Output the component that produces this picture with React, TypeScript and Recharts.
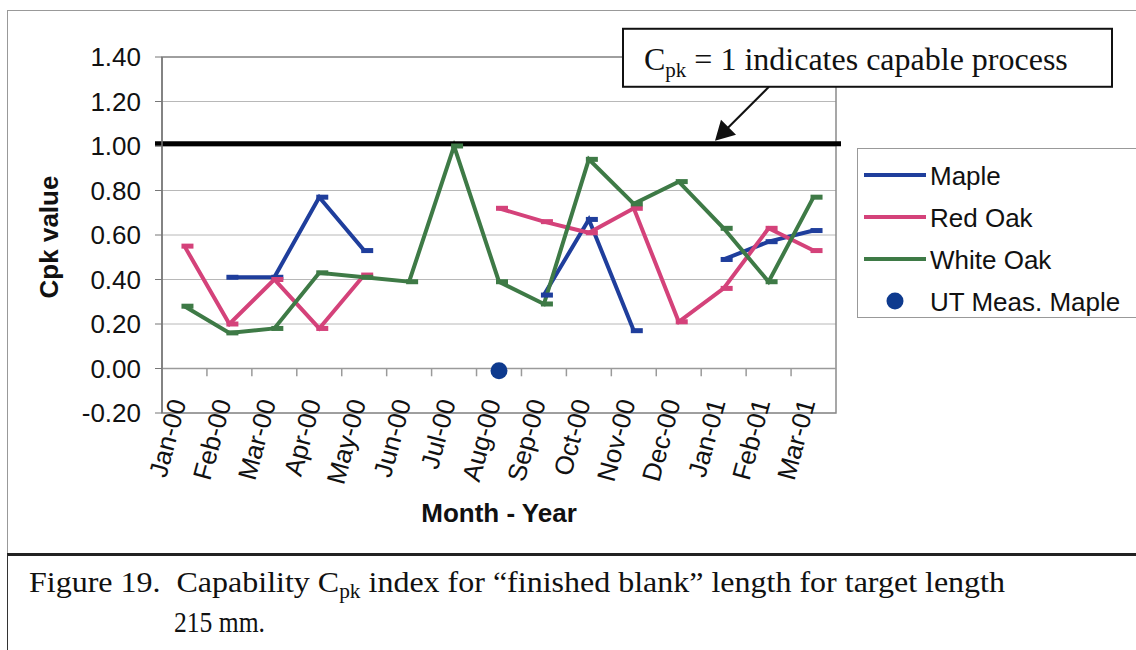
import React from 'react';
import {
  LineChart,
  Line,
  XAxis,
  YAxis,
  CartesianGrid,
  ReferenceLine,
  ReferenceArea,
  Legend,
  Label,
} from 'recharts';

// ---------- data ----------
const months = [
  'Jan-00', 'Feb-00', 'Mar-00', 'Apr-00', 'May-00', 'Jun-00', 'Jul-00', 'Aug-00',
  'Sep-00', 'Oct-00', 'Nov-00', 'Dec-00', 'Jan-01', 'Feb-01', 'Mar-01',
];
const maple = [null, 0.41, 0.41, 0.77, 0.53, null, null, null, 0.33, 0.67, 0.17, null, 0.49, 0.57, 0.62];
const redOak = [0.55, 0.2, 0.4, 0.18, 0.42, null, null, 0.72, 0.66, 0.61, 0.72, 0.21, 0.36, 0.63, 0.53];
const whiteOak = [0.28, 0.16, 0.18, 0.43, 0.41, 0.39, 1.0, 0.39, 0.29, 0.94, 0.74, 0.84, 0.63, 0.39, 0.77];
const utMaple = [null, null, null, null, null, null, null, -0.01, null, null, null, null, null, null, null];
const yTicks = [-0.2, 0, 0.2, 0.4, 0.6, 0.8, 1.0, 1.2, 1.4];
const capableLevel = 1.01;
const seriesNames = ['Maple', 'Red Oak', 'White Oak', 'UT Meas. Maple'];

const data = months.map((m, i) => ({
  pos: i + 0.5,
  month: m,
  maple: maple[i],
  redOak: redOak[i],
  whiteOak: whiteOak[i],
  ut: utMaple[i],
}));
const xTicks = months.map((_, i) => i + 0.5);
const boundaries = months.slice(1).map((_, i) => i + 1);

// ---------- styles ----------
const SANS = '"Liberation Sans", Arial, Helvetica, sans-serif';
const SERIF = '"Liberation Serif", "Times New Roman", Times, serif';
const BLUE = '#1f3e9c';
const PINK = '#d4427a';
const GREEN = '#3e7a46';
const DOT = '#0e3a8e';

const dashDot = (color: string) => (props: any) => {
  const { cx, cy, index } = props;
  if (cy == null || cx == null || Number.isNaN(cy)) return <g key={`d-${index}`} />;
  return <rect key={`d-${index}`} x={cx - 3} y={cy - 2.5} width={12} height={5} fill={color} />;
};

const XTick = (props: any) => {
  const { x, y, payload } = props;
  const label = months[Math.floor(payload.value)];
  return (
    <g transform={`translate(${x + 2},${y - 11})`}>
      <text
        x={0}
        y={0}
        transform="rotate(-75)"
        textAnchor="end"
        fontFamily={SANS}
        fontSize={26}
        fill="#111"
      >
        {label}
      </text>
    </g>
  );
};

const YTitle = (props: any) => {
  const { viewBox } = props;
  const cx = viewBox.x + 49;
  const cy = viewBox.y + viewBox.height / 2 + 2;
  return (
    <text
      x={cx}
      y={cy}
      transform={`rotate(-90 ${cx} ${cy})`}
      textAnchor="middle"
      dominantBaseline="central"
      fontFamily={SANS}
      fontWeight="bold"
      fontSize={26}
      fill="#111"
    >
      Cpk value
    </text>
  );
};

const XTitle = (props: any) => {
  const { viewBox } = props;
  return (
    <text
      x={viewBox.x + viewBox.width / 2}
      y={viewBox.y + 109}
      textAnchor="middle"
      fontFamily={SANS}
      fontWeight="bold"
      fontSize={26}
      fill="#111"
    >
      Month - Year
    </text>
  );
};

const CapableLine = (props: any) => {
  const { x1, y1, x2, y2 } = props;
  return <line x1={x1 - 7} y1={y1} x2={x2 + 5} y2={y2} stroke="#000" strokeWidth={5} />;
};

const Annotation = (props: any) => {
  const { viewBox } = props;
  const lx = viewBox.x;
  const ly = viewBox.y;
  const bx = lx + 461;
  const by = ly - 115;
  const bw = 489;
  const bh = 58;
  const ax1 = lx + 607;
  const ay1 = by + bh;
  const tipX = lx + 553;
  const tipY = ly - 3;
  return (
    <g>
      <rect x={bx} y={by} width={bw} height={bh} fill="#fff" stroke="#111" strokeWidth={2} />
      <text x={bx + 21} y={by + 41} fontFamily={SERIF} fontSize={32} fill="#111">
        <tspan>C</tspan>
        <tspan fontSize={21} dy={7}>pk</tspan>
        <tspan dy={-7}> = 1 indicates capable process</tspan>
      </text>
      <line x1={ax1} y1={ay1} x2={tipX + 11} y2={tipY - 11} stroke="#111" strokeWidth={2} />
      <polygon
        points={`${tipX},${tipY} ${tipX + 6},${tipY - 21} ${tipX + 21},${tipY - 6}`}
        fill="#111"
      />
    </g>
  );
};

const LegendBox = () => {
  const items = [
    { name: seriesNames[0], color: BLUE, type: 'line' },
    { name: seriesNames[1], color: PINK, type: 'line' },
    { name: seriesNames[2], color: GREEN, type: 'line' },
    { name: seriesNames[3], color: DOT, type: 'dot' },
  ];
  return (
    <svg width={300} height={172} style={{ display: 'block', overflow: 'visible' }}>
      <rect x={0.5} y={0.5} width={300} height={169} fill="#fff" stroke="#999" strokeWidth={1} />
      {items.map((it, i) => {
        const cy = 27 + i * 42;
        return (
          <g key={it.name}>
            {it.type === 'line' ? (
              <line x1={7} y1={cy} x2={69} y2={cy} stroke={it.color} strokeWidth={4} />
            ) : (
              <circle cx={38} cy={cy} r={8.5} fill={it.color} />
            )}
            <text x={73} y={cy + 1} dominantBaseline="central" fontFamily={SANS} fontSize={26} fill="#111">
              {it.name}
            </text>
          </g>
        );
      })}
    </svg>
  );
};

export default function App() {
  return (
    <div
      style={{
        position: 'absolute',
        left: 0,
        top: 0,
        width: 1136,
        height: 650,
        background: '#fff',
        overflow: 'hidden',
      }}
    >
      {/* chart frame */}
      <div
        style={{
          position: 'absolute',
          left: 7,
          top: 10,
          width: 1140,
          height: 560,
          borderLeft: '1px solid #999',
          borderTop: '1px solid #999',
        }}
      />
      <div style={{ position: 'absolute', left: 0, top: 0 }}>
        <LineChart
          width={1136}
          height={650}
          data={data}
          margin={{ top: 57, right: 300, bottom: 97, left: 0 }}
        >
          <CartesianGrid horizontal vertical={false} stroke="#b8b8b8" strokeWidth={1} />
          <XAxis
            type="number"
            dataKey="pos"
            domain={[0, months.length]}
            ticks={xTicks}
            interval={0}
            tick={<XTick />}
            tickLine={false}
            axisLine={false}
            tickSize={0}
            tickMargin={0}
            height={140}
          >
            <Label content={<XTitle />} />
          </XAxis>
          <YAxis
            type="number"
            domain={[-0.2, 1.4]}
            ticks={yTicks}
            interval={0}
            width={162}
            tickFormatter={(v: number) => v.toFixed(2)}
            tick={{ fontFamily: SANS, fontSize: 26, fill: '#111' }}
            tickLine={{ stroke: '#777' }}
            tickSize={7}
            tickMargin={14}
            axisLine={{ stroke: '#777', strokeWidth: 1.5 }}
          >
            <Label content={<YTitle />} />
          </YAxis>
          <ReferenceArea
            x1={0}
            x2={months.length}
            y1={-0.2}
            y2={1.4}
            fill="none"
            stroke="#8a8a8a"
            strokeWidth={1.5}
            ifOverflow="visible"
          />
          <ReferenceLine y={0} stroke="#9a9a9a" strokeWidth={1.5} />
          {boundaries.map((b) => (
            <ReferenceLine
              key={`b-${b}`}
              segment={[
                { x: b, y: 0 },
                { x: b, y: -0.035 },
              ]}
              stroke="#9a9a9a"
              strokeWidth={1.5}
            />
          ))}
          <Line
            type="linear"
            dataKey="maple"
            name={seriesNames[0]}
            stroke={BLUE}
            strokeWidth={4}
            dot={dashDot(BLUE)}
            activeDot={false}
            isAnimationActive={false}
          />
          <Line
            type="linear"
            dataKey="redOak"
            name={seriesNames[1]}
            stroke={PINK}
            strokeWidth={4}
            dot={dashDot(PINK)}
            activeDot={false}
            isAnimationActive={false}
          />
          <Line
            type="linear"
            dataKey="whiteOak"
            name={seriesNames[2]}
            stroke={GREEN}
            strokeWidth={4}
            dot={dashDot(GREEN)}
            activeDot={false}
            isAnimationActive={false}
          />
          <Line
            type="linear"
            dataKey="ut"
            name={seriesNames[3]}
            stroke="none"
            dot={{ r: 8.5, fill: DOT, stroke: 'none' }}
            activeDot={false}
            isAnimationActive={false}
          />
          <ReferenceLine
            y={capableLevel}
            stroke="#000"
            strokeWidth={5}
            shape={<CapableLine />}
            label={<Annotation />}
            ifOverflow="visible"
          />
          <Legend
            layout="horizontal"
            verticalAlign="middle"
            align="center"
            content={<LegendBox />}
            wrapperStyle={{ position: 'absolute', left: 857, top: 148, width: 300, height: 172 }}
          />
        </LineChart>
      </div>
      {/* caption */}
      <div
        style={{
          position: 'absolute',
          left: 7,
          top: 553,
          width: 1140,
          height: 110,
          borderTop: '3px solid #222',
          borderLeft: '1px solid #333',
          background: '#fff',
        }}
      />
      <svg
        width={1136}
        height={100}
        style={{ position: 'absolute', left: 0, top: 550 }}
      >
        <text
          x={29}
          y={42}
          fontFamily={SERIF}
          fontSize={30}
          fill="#111"
          textLength={976}
          lengthAdjust="spacingAndGlyphs"
          style={{ whiteSpace: 'pre' }}
        >
          <tspan>Figure 19.  Capability C</tspan>
          <tspan fontSize={20} dy={6}>pk</tspan>
          <tspan dy={-6}> index for “finished blank” length for target length</tspan>
        </text>
        <text x={174} y={82} fontFamily={SERIF} fontSize={30} fill="#111" textLength={91} lengthAdjust="spacingAndGlyphs">
          215 mm.
        </text>
      </svg>
    </div>
  );
}
